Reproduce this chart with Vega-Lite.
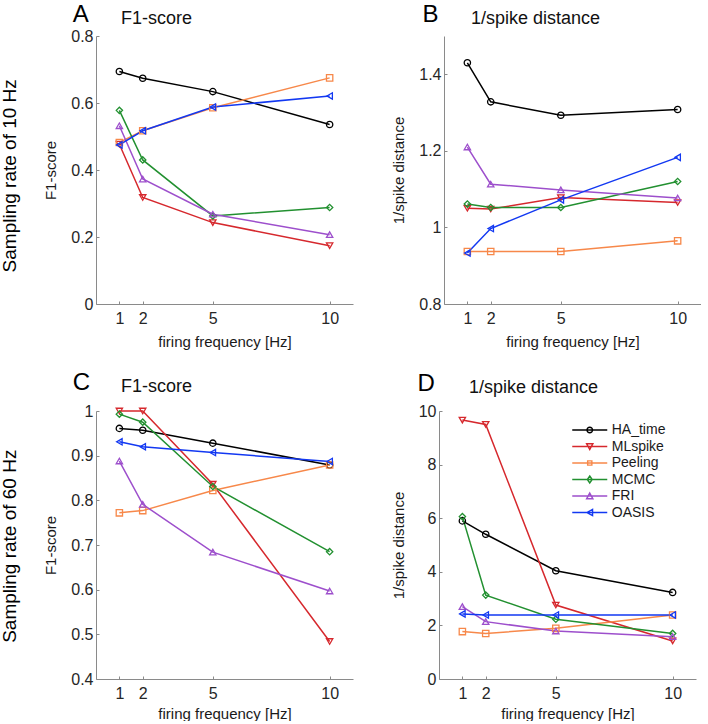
{
  "$schema": "https://vega.github.io/schema/vega-lite/v6.json",
  "padding": {"left": 0, "top": 2, "right": 0, "bottom": 0},
  "config": {
    "font": "Liberation Sans",
    "view": {"stroke": null},
    "axis": {"grid": false, "domainColor": "#8a8a8a", "tickColor": "#8a8a8a", "tickSize": -3, "labelFontSize": 16, "labelColor": "#262626", "titleFontSize": 15, "titleFontWeight": "normal", "titleColor": "#1a1a1a", "labelFont": "Liberation Sans", "titleFont": "Liberation Sans"},
    "axisX": {"labelPadding": 9, "titlePadding": 8},
    "axisY": {"labelPadding": 6, "titlePadding": 12},
    "title": {"fontWeight": "normal", "fontSize": 18, "anchor": "start", "frame": "group", "color": "#111111", "font": "Liberation Sans"}
  },
  "datasets": {
    "perf": [
      {"panel": "A", "method": "HA_time", "freq": 1, "value": 0.694},
      {"panel": "A", "method": "HA_time", "freq": 2, "value": 0.674},
      {"panel": "A", "method": "HA_time", "freq": 5, "value": 0.634},
      {"panel": "A", "method": "HA_time", "freq": 10, "value": 0.536},
      {"panel": "A", "method": "MLspike", "freq": 1, "value": 0.477},
      {"panel": "A", "method": "MLspike", "freq": 2, "value": 0.318},
      {"panel": "A", "method": "MLspike", "freq": 5, "value": 0.243},
      {"panel": "A", "method": "MLspike", "freq": 10, "value": 0.174},
      {"panel": "A", "method": "Peeling", "freq": 1, "value": 0.482},
      {"panel": "A", "method": "Peeling", "freq": 2, "value": 0.517},
      {"panel": "A", "method": "Peeling", "freq": 5, "value": 0.586},
      {"panel": "A", "method": "Peeling", "freq": 10, "value": 0.675},
      {"panel": "A", "method": "MCMC", "freq": 1, "value": 0.578},
      {"panel": "A", "method": "MCMC", "freq": 2, "value": 0.430},
      {"panel": "A", "method": "MCMC", "freq": 5, "value": 0.263},
      {"panel": "A", "method": "MCMC", "freq": 10, "value": 0.288},
      {"panel": "A", "method": "FRI", "freq": 1, "value": 0.532},
      {"panel": "A", "method": "FRI", "freq": 2, "value": 0.373},
      {"panel": "A", "method": "FRI", "freq": 5, "value": 0.268},
      {"panel": "A", "method": "FRI", "freq": 10, "value": 0.207},
      {"panel": "A", "method": "OASIS", "freq": 1, "value": 0.475},
      {"panel": "A", "method": "OASIS", "freq": 2, "value": 0.517},
      {"panel": "A", "method": "OASIS", "freq": 5, "value": 0.588},
      {"panel": "A", "method": "OASIS", "freq": 10, "value": 0.621},
      {"panel": "B", "method": "HA_time", "freq": 1, "value": 1.430},
      {"panel": "B", "method": "HA_time", "freq": 2, "value": 1.328},
      {"panel": "B", "method": "HA_time", "freq": 5, "value": 1.293},
      {"panel": "B", "method": "HA_time", "freq": 10, "value": 1.308},
      {"panel": "B", "method": "MLspike", "freq": 1, "value": 1.050},
      {"panel": "B", "method": "MLspike", "freq": 2, "value": 1.048},
      {"panel": "B", "method": "MLspike", "freq": 5, "value": 1.078},
      {"panel": "B", "method": "MLspike", "freq": 10, "value": 1.065},
      {"panel": "B", "method": "Peeling", "freq": 1, "value": 0.937},
      {"panel": "B", "method": "Peeling", "freq": 2, "value": 0.937},
      {"panel": "B", "method": "Peeling", "freq": 5, "value": 0.937},
      {"panel": "B", "method": "Peeling", "freq": 10, "value": 0.965},
      {"panel": "B", "method": "MCMC", "freq": 1, "value": 1.061},
      {"panel": "B", "method": "MCMC", "freq": 2, "value": 1.052},
      {"panel": "B", "method": "MCMC", "freq": 5, "value": 1.052},
      {"panel": "B", "method": "MCMC", "freq": 10, "value": 1.120},
      {"panel": "B", "method": "FRI", "freq": 1, "value": 1.210},
      {"panel": "B", "method": "FRI", "freq": 2, "value": 1.113},
      {"panel": "B", "method": "FRI", "freq": 5, "value": 1.098},
      {"panel": "B", "method": "FRI", "freq": 10, "value": 1.077},
      {"panel": "B", "method": "OASIS", "freq": 1, "value": 0.933},
      {"panel": "B", "method": "OASIS", "freq": 2, "value": 0.997},
      {"panel": "B", "method": "OASIS", "freq": 5, "value": 1.072},
      {"panel": "B", "method": "OASIS", "freq": 10, "value": 1.183},
      {"panel": "C", "method": "HA_time", "freq": 1, "value": 0.961},
      {"panel": "C", "method": "HA_time", "freq": 2, "value": 0.957},
      {"panel": "C", "method": "HA_time", "freq": 5, "value": 0.928},
      {"panel": "C", "method": "HA_time", "freq": 10, "value": 0.879},
      {"panel": "C", "method": "MLspike", "freq": 1, "value": 1.0},
      {"panel": "C", "method": "MLspike", "freq": 2, "value": 1.0},
      {"panel": "C", "method": "MLspike", "freq": 5, "value": 0.836},
      {"panel": "C", "method": "MLspike", "freq": 10, "value": 0.484},
      {"panel": "C", "method": "Peeling", "freq": 1, "value": 0.772},
      {"panel": "C", "method": "Peeling", "freq": 2, "value": 0.777},
      {"panel": "C", "method": "Peeling", "freq": 5, "value": 0.822},
      {"panel": "C", "method": "Peeling", "freq": 10, "value": 0.879},
      {"panel": "C", "method": "MCMC", "freq": 1, "value": 0.993},
      {"panel": "C", "method": "MCMC", "freq": 2, "value": 0.975},
      {"panel": "C", "method": "MCMC", "freq": 5, "value": 0.831},
      {"panel": "C", "method": "MCMC", "freq": 10, "value": 0.685},
      {"panel": "C", "method": "FRI", "freq": 1, "value": 0.888},
      {"panel": "C", "method": "FRI", "freq": 2, "value": 0.791},
      {"panel": "C", "method": "FRI", "freq": 5, "value": 0.684},
      {"panel": "C", "method": "FRI", "freq": 10, "value": 0.597},
      {"panel": "C", "method": "OASIS", "freq": 1, "value": 0.931},
      {"panel": "C", "method": "OASIS", "freq": 2, "value": 0.920},
      {"panel": "C", "method": "OASIS", "freq": 5, "value": 0.907},
      {"panel": "C", "method": "OASIS", "freq": 10, "value": 0.887},
      {"panel": "D", "method": "HA_time", "freq": 1, "value": 5.90},
      {"panel": "D", "method": "HA_time", "freq": 2, "value": 5.40},
      {"panel": "D", "method": "HA_time", "freq": 5, "value": 4.04},
      {"panel": "D", "method": "HA_time", "freq": 10, "value": 3.23},
      {"panel": "D", "method": "MLspike", "freq": 1, "value": 9.66},
      {"panel": "D", "method": "MLspike", "freq": 2, "value": 9.50},
      {"panel": "D", "method": "MLspike", "freq": 5, "value": 2.76},
      {"panel": "D", "method": "MLspike", "freq": 10, "value": 1.42},
      {"panel": "D", "method": "Peeling", "freq": 1, "value": 1.77},
      {"panel": "D", "method": "Peeling", "freq": 2, "value": 1.70},
      {"panel": "D", "method": "Peeling", "freq": 5, "value": 1.89},
      {"panel": "D", "method": "Peeling", "freq": 10, "value": 2.39},
      {"panel": "D", "method": "MCMC", "freq": 1, "value": 6.06},
      {"panel": "D", "method": "MCMC", "freq": 2, "value": 3.13},
      {"panel": "D", "method": "MCMC", "freq": 5, "value": 2.23},
      {"panel": "D", "method": "MCMC", "freq": 10, "value": 1.70},
      {"panel": "D", "method": "FRI", "freq": 1, "value": 2.70},
      {"panel": "D", "method": "FRI", "freq": 2, "value": 2.14},
      {"panel": "D", "method": "FRI", "freq": 5, "value": 1.79},
      {"panel": "D", "method": "FRI", "freq": 10, "value": 1.58},
      {"panel": "D", "method": "OASIS", "freq": 1, "value": 2.43},
      {"panel": "D", "method": "OASIS", "freq": 2, "value": 2.39},
      {"panel": "D", "method": "OASIS", "freq": 5, "value": 2.39},
      {"panel": "D", "method": "OASIS", "freq": 10, "value": 2.39}
    ]
  },
  "resolve": {"scale": {"color": "independent", "shape": "independent"}, "legend": {"color": "independent", "shape": "independent"}},
  "spacing": 22,
  "vconcat": [
    {
      "title": {"text": "Sampling rate of 10 Hz", "orient": "left", "anchor": "middle", "frame": "bounds", "fontSize": 19, "color": "#000000", "offset": 24},
      "spacing": 38,
      "resolve": {"scale": {"color": "independent", "shape": "independent"}, "legend": {"color": "independent", "shape": "independent"}},
      "hconcat": [
        {
          "width": 257, "height": 268,
          "title": {"text": "F1-score", "dx": 25, "offset": -39, "baseline": "alphabetic"},
          "layer": [
            {
              "data": {"name": "perf"},
              "transform": [{"filter": "datum.panel === 'A'"}],
              "mark": {"type": "line", "strokeWidth": 1.5, "point": {"filled": false, "size": 40, "strokeWidth": 1.3}},
              "encoding": {
                "x": {"field": "freq", "type": "quantitative", "scale": {"domain": [0, 10.75]}, "axis": {"values": [1, 2, 5, 10], "title": "firing frequency [Hz]", "format": "d"}},
                "y": {"field": "value", "type": "quantitative", "scale": {"domain": [0, 0.8]}, "axis": {"values": [0, 0.2, 0.4, 0.6, 0.8], "title": "F1-score", "format": "~r"}},
                "color": {"field": "method", "type": "nominal", "sort": null, "scale": {"domain": ["HA_time", "MLspike", "Peeling", "MCMC", "FRI", "OASIS"], "range": ["#000000", "#d6282d", "#f7884a", "#229030", "#9d4fcc", "#1238f2"]}, "legend": null},
                "shape": {"field": "method", "type": "nominal", "sort": null, "scale": {"domain": ["HA_time", "MLspike", "Peeling", "MCMC", "FRI", "OASIS"], "range": ["circle", "triangle-down", "square", "diamond", "triangle-up", "triangle-left"]}, "legend": null}
              }
            },
            {
              "data": {"values": [{"letter": "A"}]},
              "mark": {"type": "text", "align": "left", "baseline": "alphabetic", "fontSize": 24, "color": "#000000"},
              "encoding": {"text": {"field": "letter"}, "x": {"datum": -1}, "y": {"datum": 0.843}}
            }
          ]
        },
        {
          "width": 257, "height": 268,
          "title": {"text": "1/spike distance", "dx": 27, "offset": -39, "baseline": "alphabetic"},
          "layer": [
            {
              "data": {"name": "perf"},
              "transform": [{"filter": "datum.panel === 'B'"}],
              "mark": {"type": "line", "strokeWidth": 1.5, "point": {"filled": false, "size": 40, "strokeWidth": 1.3}},
              "encoding": {
                "x": {"field": "freq", "type": "quantitative", "scale": {"domain": [0, 10.75]}, "axis": {"values": [1, 2, 5, 10], "title": "firing frequency [Hz]", "format": "d"}},
                "y": {"field": "value", "type": "quantitative", "scale": {"domain": [0.8, 1.5]}, "axis": {"values": [0.8, 0.9, 1, 1.1, 1.2, 1.3, 1.4, 1.5], "title": "1/spike distance", "format": "~r"}},
                "color": {"field": "method", "type": "nominal", "sort": null, "scale": {"domain": ["HA_time", "MLspike", "Peeling", "MCMC", "FRI", "OASIS"], "range": ["#000000", "#d6282d", "#f7884a", "#229030", "#9d4fcc", "#1238f2"]}, "legend": null},
                "shape": {"field": "method", "type": "nominal", "sort": null, "scale": {"domain": ["HA_time", "MLspike", "Peeling", "MCMC", "FRI", "OASIS"], "range": ["circle", "triangle-down", "square", "diamond", "triangle-up", "triangle-left"]}, "legend": null}
              }
            },
            {
              "data": {"values": [{"letter": "B"}]},
              "mark": {"type": "text", "align": "left", "baseline": "alphabetic", "fontSize": 24, "color": "#000000"},
              "encoding": {"text": {"field": "letter"}, "x": {"datum": -0.92}, "y": {"datum": 1.537}}
            }
          ]
        }
      ]
    },
    {
      "title": {"text": "Sampling rate of 60 Hz", "orient": "left", "anchor": "middle", "frame": "bounds", "fontSize": 19, "color": "#000000", "offset": 24},
      "spacing": 38,
      "resolve": {"scale": {"color": "independent", "shape": "independent"}, "legend": {"color": "independent", "shape": "independent"}},
      "hconcat": [
        {
          "width": 257, "height": 268,
          "title": {"text": "F1-score", "dx": 25, "offset": -39, "baseline": "alphabetic"},
          "layer": [
            {
              "data": {"name": "perf"},
              "transform": [{"filter": "datum.panel === 'C'"}],
              "mark": {"type": "line", "strokeWidth": 1.5, "point": {"filled": false, "size": 40, "strokeWidth": 1.3}},
              "encoding": {
                "x": {"field": "freq", "type": "quantitative", "scale": {"domain": [0, 10.75]}, "axis": {"values": [1, 2, 5, 10], "title": "firing frequency [Hz]", "format": "d", "titlePadding": 5}},
                "y": {"field": "value", "type": "quantitative", "scale": {"domain": [0.4, 1]}, "axis": {"values": [0.4, 0.5, 0.6, 0.7, 0.8, 0.9, 1], "title": "F1-score", "format": "~r"}},
                "color": {"field": "method", "type": "nominal", "sort": null, "scale": {"domain": ["HA_time", "MLspike", "Peeling", "MCMC", "FRI", "OASIS"], "range": ["#000000", "#d6282d", "#f7884a", "#229030", "#9d4fcc", "#1238f2"]}, "legend": null},
                "shape": {"field": "method", "type": "nominal", "sort": null, "scale": {"domain": ["HA_time", "MLspike", "Peeling", "MCMC", "FRI", "OASIS"], "range": ["circle", "triangle-down", "square", "diamond", "triangle-up", "triangle-left"]}, "legend": null}
              }
            },
            {
              "data": {"values": [{"letter": "C"}]},
              "mark": {"type": "text", "align": "left", "baseline": "alphabetic", "fontSize": 24, "color": "#000000"},
              "encoding": {"text": {"field": "letter"}, "x": {"datum": -1}, "y": {"datum": 1.046}}
            }
          ]
        },
        {
          "width": 257, "height": 268,
          "title": {"text": "1/spike distance", "dx": 30, "offset": -39, "baseline": "alphabetic"},
          "resolve": {"scale": {"color": "independent", "shape": "independent"}},
          "layer": [
            {
              "data": {"name": "perf"},
              "transform": [{"filter": "datum.panel === 'D'"}],
              "mark": {"type": "line", "strokeWidth": 1.5},
              "encoding": {
                "x": {"field": "freq", "type": "quantitative", "scale": {"domain": [0, 10.75]}, "axis": {"values": [1, 2, 5, 10], "title": "firing frequency [Hz]", "format": "d", "titlePadding": 5}},
                "y": {"field": "value", "type": "quantitative", "scale": {"domain": [0, 10]}, "axis": {"values": [0, 2, 4, 6, 8, 10], "title": "1/spike distance", "format": "~r"}},
                "color": {"field": "method", "type": "nominal", "sort": null, "scale": {"domain": ["HA_time", "MLspike", "Peeling", "MCMC", "FRI", "OASIS"], "range": ["#000000", "#d6282d", "#f7884a", "#229030", "#9d4fcc", "#1238f2"]}, "legend": null}
              }
            },
            {
              "data": {"name": "perf"},
              "transform": [{"filter": "datum.panel === 'D'"}],
              "mark": {"type": "point", "filled": false, "size": 40, "strokeWidth": 1.3, "opacity": 1},
              "encoding": {
                "x": {"field": "freq", "type": "quantitative"},
                "y": {"field": "value", "type": "quantitative"},
                "color": {"field": "method", "type": "nominal", "sort": null, "scale": {"domain": ["HA_time", "MLspike", "Peeling", "MCMC", "FRI", "OASIS"], "range": ["#000000", "#d6282d", "#f7884a", "#229030", "#9d4fcc", "#1238f2"]}, "legend": null},
                "shape": {"field": "method", "type": "nominal", "sort": null, "scale": {"domain": ["HA_time", "MLspike", "Peeling", "MCMC", "FRI", "OASIS"], "range": ["circle", "triangle-down", "square", "diamond", "triangle-up", "triangle-left"]}, "legend": null}
              }
            },
            {
              "data": {"name": "perf"},
              "transform": [{"filter": "datum.panel === 'D'"}],
              "mark": {"type": "point", "filled": false, "size": 40, "strokeWidth": 1.3, "opacity": 0},
              "encoding": {
                "x": {"field": "freq", "type": "quantitative"},
                "y": {"field": "value", "type": "quantitative"},
                "color": {"field": "method", "type": "nominal", "sort": null, "scale": {"domain": ["HA_time", "MLspike", "Peeling", "MCMC", "FRI", "OASIS"], "range": ["#000000", "#d6282d", "#f7884a", "#229030", "#9d4fcc", "#1238f2"]},
                  "legend": {"orient": "none", "legendX": 133, "legendY": 11, "title": null, "padding": 0, "labelFontSize": 14, "labelColor": "#1a1a1a", "labelFont": "Liberation Sans", "symbolSize": 196, "symbolOpacity": 1, "symbolStrokeWidth": 1.4, "symbolOffset": 9.75, "labelOffset": 14, "rowPadding": 1.5}},
                "shape": {"field": "method", "type": "nominal", "sort": null, "scale": {"domain": ["HA_time", "MLspike", "Peeling", "MCMC", "FRI", "OASIS"], "range": ["M-2.5,0H2.5M0.4,0A0.4,0.4,0,1,1,-0.4,0A0.4,0.4,0,1,1,0.4,0", "M-2.5,0H2.5M-0.45,-0.4H0.45L0,0.42Z", "M-2.5,0H2.5M-0.3,-0.3H0.3V0.3H-0.3Z", "M-2.5,0H2.5M0,-0.5L0.35,0L0,0.5L-0.35,0Z", "M-2.5,0H2.5M0,-0.42L0.45,0.4H-0.45Z", "M-2.5,0H2.5M-0.42,0L0.4,-0.45V0.45Z"]},
                  "legend": {"orient": "none", "legendX": 133, "legendY": 11, "title": null, "padding": 0, "labelFontSize": 14, "labelColor": "#1a1a1a", "labelFont": "Liberation Sans", "symbolSize": 196, "symbolOpacity": 1, "symbolStrokeWidth": 1.4, "symbolOffset": 9.75, "labelOffset": 14, "rowPadding": 1.5}}
              }
            },
            {
              "data": {"values": [{"letter": "D"}]},
              "mark": {"type": "text", "align": "left", "baseline": "alphabetic", "fontSize": 24, "color": "#000000"},
              "encoding": {"text": {"field": "letter"}, "x": {"datum": -0.92}, "y": {"datum": 10.75}}
            }
          ]
        }
      ]
    }
  ]
}
